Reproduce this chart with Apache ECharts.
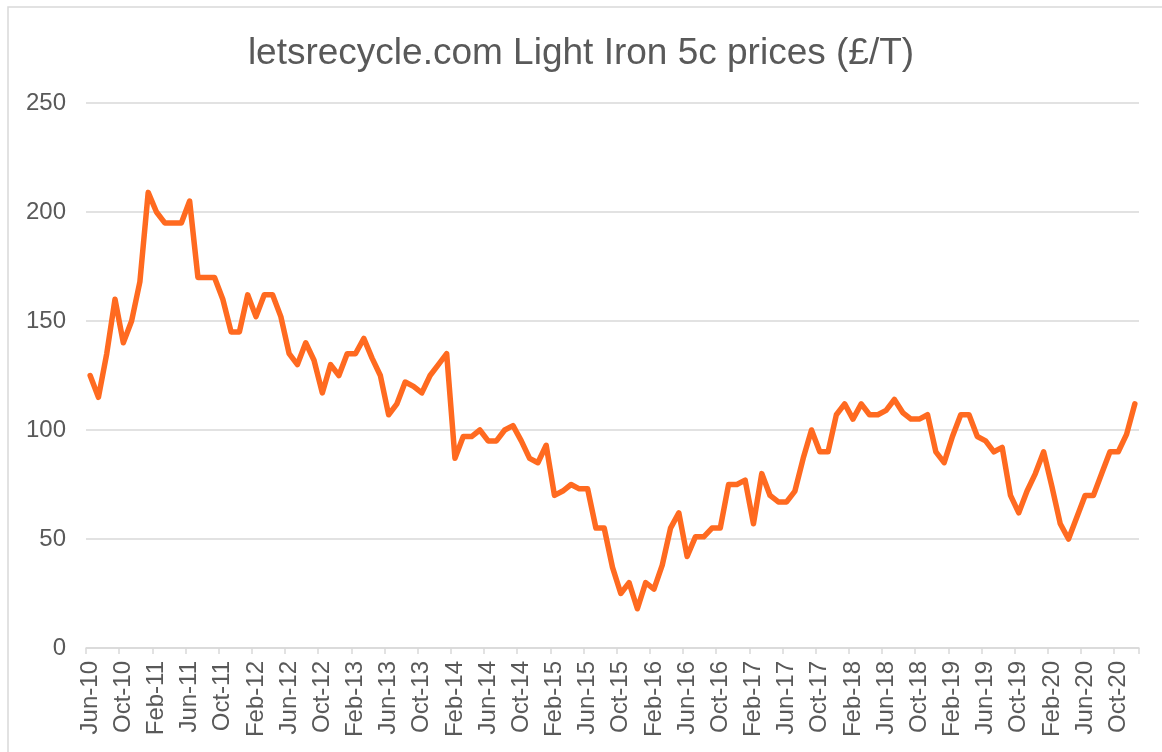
<!DOCTYPE html>
<html>
<head>
<meta charset="utf-8">
<script src="https://cdn.jsdelivr.net/npm/echarts@6/dist/echarts.min.js"></script>
<style>
  html, body { margin: 0; padding: 0; background: #ffffff; }
  #chart { width: 1162px; height: 752px; }
</style>
</head>
<body>
<div id="chart"></div>
<script>
const chartTitle = 'letsrecycle.com Light Iron 5c prices (£/T)';

const months = [
  'Jun-10','Jul-10','Aug-10','Sep-10','Oct-10','Nov-10','Dec-10',
  'Jan-11','Feb-11','Mar-11','Apr-11','May-11','Jun-11','Jul-11','Aug-11','Sep-11','Oct-11','Nov-11','Dec-11',
  'Jan-12','Feb-12','Mar-12','Apr-12','May-12','Jun-12','Jul-12','Aug-12','Sep-12','Oct-12','Nov-12','Dec-12',
  'Jan-13','Feb-13','Mar-13','Apr-13','May-13','Jun-13','Jul-13','Aug-13','Sep-13','Oct-13','Nov-13','Dec-13',
  'Jan-14','Feb-14','Mar-14','Apr-14','May-14','Jun-14','Jul-14','Aug-14','Sep-14','Oct-14','Nov-14','Dec-14',
  'Jan-15','Feb-15','Mar-15','Apr-15','May-15','Jun-15','Jul-15','Aug-15','Sep-15','Oct-15','Nov-15','Dec-15',
  'Jan-16','Feb-16','Mar-16','Apr-16','May-16','Jun-16','Jul-16','Aug-16','Sep-16','Oct-16','Nov-16','Dec-16',
  'Jan-17','Feb-17','Mar-17','Apr-17','May-17','Jun-17','Jul-17','Aug-17','Sep-17','Oct-17','Nov-17','Dec-17',
  'Jan-18','Feb-18','Mar-18','Apr-18','May-18','Jun-18','Jul-18','Aug-18','Sep-18','Oct-18','Nov-18','Dec-18',
  'Jan-19','Feb-19','Mar-19','Apr-19','May-19','Jun-19','Jul-19','Aug-19','Sep-19','Oct-19','Nov-19','Dec-19',
  'Jan-20','Feb-20','Mar-20','Apr-20','May-20','Jun-20','Jul-20','Aug-20','Sep-20','Oct-20','Nov-20','Dec-20'
];

const prices = [
  125, 115, 135, 160, 140, 150, 168,
  209, 200, 195, 195, 195, 205, 170, 170, 170, 160, 145, 145,
  162, 152, 162, 162, 152, 135, 130, 140, 132, 117, 130, 125,
  135, 135, 142, 133, 125, 107, 112, 122, 120, 117, 125, 130,
  135, 87, 97, 97, 100, 95, 95, 100, 102, 95, 87, 85,
  93, 70, 72, 75, 73, 73, 55, 55, 37, 25, 30, 18,
  30, 27, 38, 55, 62, 42, 51, 51, 55, 55, 75, 75,
  77, 57, 80, 70, 67, 67, 72, 87, 100, 90, 90, 107,
  112, 105, 112, 107, 107, 109, 114, 108, 105, 105, 107, 90,
  85, 97, 107, 107, 97, 95, 90, 92, 70, 62, 72, 80,
  90, 74, 57, 50, 60, 70, 70, 80, 90, 90, 98, 112
];

const yTicks = { min: 0, max: 250, step: 50 };

const chart = echarts.init(document.getElementById('chart'), null, { renderer: 'canvas' });
const font = "'Liberation Sans', Arial, sans-serif";

chart.setOption({
  backgroundColor: '#ffffff',
  animation: false,
  title: {
    text: chartTitle,
    left: 'center',
    top: 30,
    textStyle: { fontFamily: font, fontSize: 37, fontWeight: 'normal', color: '#595959' }
  },
  graphic: [{
    type: 'rect',
    shape: { x: 8, y: 7, width: 1170, height: 780 },
    style: { fill: 'none', stroke: '#d9d9d9', lineWidth: 1.5 },
    silent: true
  }],
  grid: { left: 86, right: 23, top: 103, bottom: 104, containLabel: false },
  xAxis: {
    type: 'category',
    data: months,
    boundaryGap: true,
    axisLine: { show: true, lineStyle: { color: '#d9d9d9', width: 1.5 } },
    axisTick: { show: true, interval: 3, length: 6, lineStyle: { color: '#d9d9d9', width: 1.5 } },
    axisLabel: {
      interval: 3,
      rotate: 90,
      margin: 13,
      color: '#595959',
      fontFamily: font,
      fontSize: 24
    },
    splitLine: { show: false }
  },
  yAxis: {
    type: 'value',
    min: yTicks.min,
    max: yTicks.max,
    interval: yTicks.step,
    axisLine: { show: false },
    axisTick: { show: false },
    axisLabel: { color: '#595959', fontFamily: font, fontSize: 24, margin: 20 },
    splitLine: { lineStyle: { color: '#d9d9d9', width: 1.5 } }
  },
  series: [{
    type: 'line',
    data: prices,
    symbol: 'none',
    smooth: false,
    lineStyle: { color: '#FF6A20', width: 5.5, join: 'round', cap: 'round' },
    itemStyle: { color: '#FF6A20' }
  }]
});
</script>
</body>
</html>
